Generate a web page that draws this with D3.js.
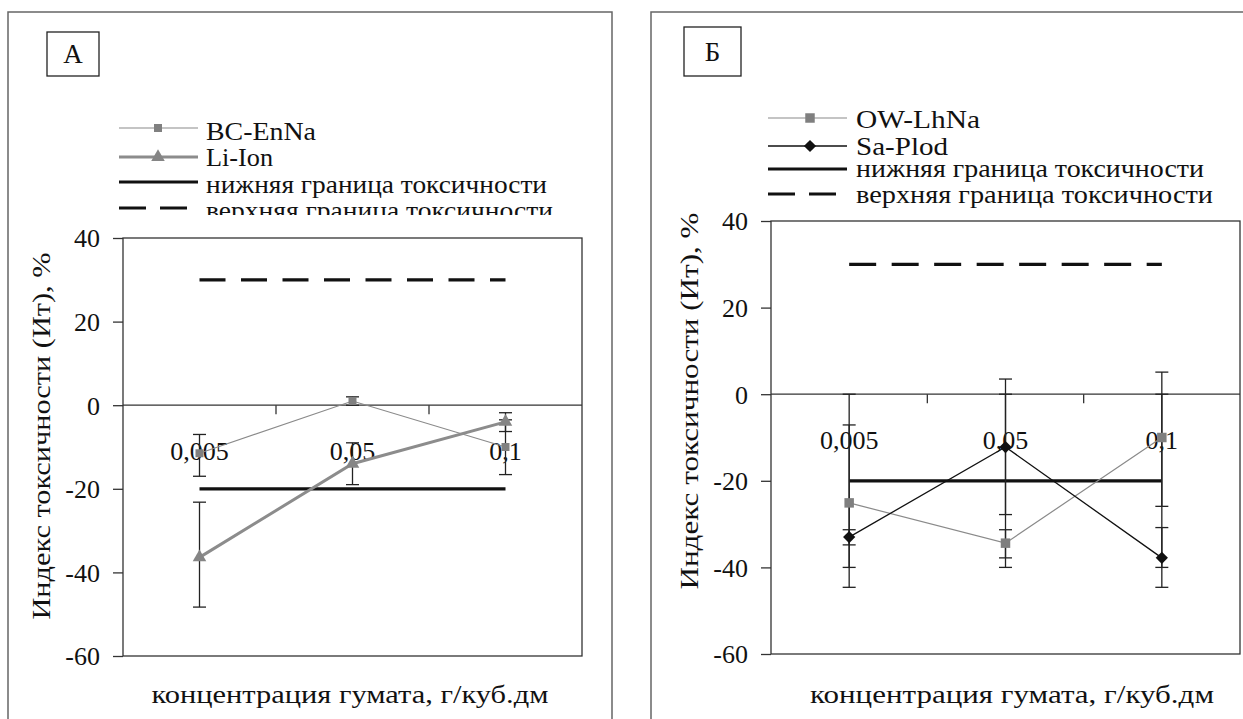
<!DOCTYPE html>
<html>
<head>
<meta charset="utf-8">
<script src="https://cdn.jsdelivr.net/npm/d3@7"></script>
<style>
  body { margin: 0; background: #fff; }
</style>
</head>
<body>
<svg id="chart" width="1243" height="719" font-family="Liberation Serif" fill="#111"></svg>
<script>
// categories and ticks
const categories = ["0,005", "0,05", "0,1"];
const yTicks = [40, 20, 0, -20, -40, -60];

// panel A
const bcEnNa = [-11.5, 1, -10];
const bcEnNaLo = [-17, 0, -16.6];
const bcEnNaHi = [-7, 2, -3.5];
const liIon = [-36.4, -14, -4];
const liIonLo = [-48.3, -19, -6.3];
const liIonHi = [-23.2, -9, -1.8];

// panel B
const owLhNa = [-25.1, -34.4, -10];
const owLhNaLo = [-44.6, -37.8, -25.9];
const owLhNaHi = [-7.1, -31.3, 5.1];
const saPlod = [-33, -12.2, -37.8];
const saPlodLo = [-34.8, -27.8, -44.6];
const saPlodHi = [-31.3, 3.5, -30.8];

// toxicity limits
const lowerLimit = [-20, -20, -20];
const upperLimit = [30, 30, 30];
const lowerLimitLoB = [-40, -40, -40];
const lowerLimitHiB = [0, 0, 0];

const legendA = ["BC-EnNa", "Li-Ion", "нижняя граница токсичности", "верхняя граница токсичности"];
const legendB = ["OW-LhNa", "Sa-Plod", "нижняя граница токсичности", "верхняя граница токсичности"];
const xTitle = "концентрация гумата, г/куб.дм";
const yTitle = "Индекс токсичности (Ит), %";

const FONT = "'Liberation Serif', 'Times New Roman', serif";
const svg = d3.select("#chart");

function label(sel, size) {
    return sel.style("font-family", FONT).style("font-size", size + "px").attr("fill", "#111");
}

function drawPanel(p) {
    const g = svg.append("g");

    // outer frame
    g.append("path")
        .attr("d", p.frame)
        .attr("fill", "none")
        .attr("stroke", "#666")
        .attr("stroke-width", 1.5);

    // letter box
    g.append("rect")
        .attr("x", p.box[0]).attr("y", p.box[1])
        .attr("width", p.box[2]).attr("height", p.box[3])
        .attr("fill", "none").attr("stroke", "#222").attr("stroke-width", 1.3);
    label(g.append("text"), 27)
        .attr("x", p.box[0] + p.box[2] / 2)
        .attr("y", p.box[1] + p.box[3] / 2 + 9)
        .attr("text-anchor", "middle")
        .text(p.letter);

    const x = d3.scaleBand().domain(categories).range([p.left, p.right]);
    const y = d3.scaleLinear().domain([-60, 40]).range([p.bottom, p.top]);
    const cx = c => x(c) + x.bandwidth() / 2;

    // plot border
    g.append("rect")
        .attr("x", p.left).attr("y", p.top)
        .attr("width", p.right - p.left).attr("height", p.bottom - p.top)
        .attr("fill", "none").attr("stroke", "#333").attr("stroke-width", 1.3);

    // y axis
    const yAxis = g.append("g")
        .attr("transform", "translate(" + p.left + ",0)")
        .call(d3.axisLeft(y).tickValues(yTicks).tickSize(10).tickPadding(13)
            .tickFormat(d => String(d)));
    yAxis.select(".domain").remove();
    yAxis.selectAll("line").attr("stroke", "#333").attr("stroke-width", 1.3);
    label(yAxis.selectAll("text"), 26).attr("dy", "0.34em");

    // category axis at zero
    g.append("line")
        .attr("x1", p.left).attr("x2", p.right)
        .attr("y1", y(0)).attr("y2", y(0))
        .attr("stroke", "#333").attr("stroke-width", 1.3);
    g.selectAll(".ctick")
        .data(categories.slice(1))
        .enter().append("line")
        .attr("x1", d => x(d)).attr("x2", d => x(d))
        .attr("y1", y(0)).attr("y2", y(0) + 9)
        .attr("stroke", "#333").attr("stroke-width", 1.3);
    label(g.selectAll(".clabel")
        .data(categories)
        .enter().append("text"), 26)
        .attr("x", d => cx(d))
        .attr("y", y(0) + 55)
        .attr("text-anchor", "middle")
        .text(d => d);

    // axis titles
    label(g.append("text"), 26)
        .attr("x", p.xTitle[0]).attr("y", p.xTitle[1])
        .attr("text-anchor", "middle")
        .attr("textLength", p.xTitle[2]).attr("lengthAdjust", "spacingAndGlyphs")
        .text(xTitle);
    label(g.append("text"), 26)
        .attr("transform", "translate(" + p.yTitle[0] + "," + p.yTitle[1] + ") rotate(-90)")
        .attr("text-anchor", "middle")
        .attr("textLength", p.yTitle[2]).attr("lengthAdjust", "spacingAndGlyphs")
        .text(yTitle);

    const line = d3.line().x((d, i) => cx(categories[i])).y(d => y(d));

    // limits
    g.append("path").datum(upperLimit)
        .attr("d", line).attr("fill", "none")
        .attr("stroke", "#111").attr("stroke-width", 3.2)
        .attr("stroke-dasharray", p.dash);
    g.append("path").datum(lowerLimit)
        .attr("d", line).attr("fill", "none")
        .attr("stroke", "#111").attr("stroke-width", 3.2);

    // error bars
    p.series.forEach(function(s) {
        if (!s.lo) return;
        const eg = g.append("g").attr("stroke", "#222").attr("stroke-width", 1.3);
        categories.forEach(function(c, i) {
            eg.append("line")
                .attr("x1", cx(c)).attr("x2", cx(c))
                .attr("y1", y(s.lo[i])).attr("y2", y(s.hi[i]));
            [s.lo[i], s.hi[i]].forEach(function(v) {
                eg.append("line")
                    .attr("x1", cx(c) - 6.5).attr("x2", cx(c) + 6.5)
                    .attr("y1", y(v)).attr("y2", y(v));
            });
        });
    });

    // series lines + markers
    p.series.forEach(function(s) {
        if (!s.marker) return;
        g.append("path").datum(s.values)
            .attr("d", line).attr("fill", "none")
            .attr("stroke", s.color).attr("stroke-width", s.width);
        g.selectAll(null)
            .data(s.values)
            .enter().append("path")
            .attr("d", d3.symbol().type(s.marker).size(s.size))
            .attr("transform", (d, i) => "translate(" + cx(categories[i]) + "," + y(d) + ")" + (s.rot ? " rotate(45)" : ""))
            .attr("fill", s.mcolor);
    });

    // legend
    const lg = g.append("g");
    if (p.legendClip) {
        svg.append("clipPath").attr("id", "clip" + p.letter)
            .append("rect").attr("x", 0).attr("y", 0).attr("width", 1243).attr("height", p.legendClip);
        lg.attr("clip-path", "url(#clip" + p.letter + ")");
    }
    p.legend.forEach(function(item, i) {
        const ly = p.legLineY[i];
        const s = item.style;
        lg.append("line")
            .attr("x1", p.legX[0]).attr("x2", p.legX[1])
            .attr("y1", ly).attr("y2", ly)
            .attr("stroke", s.color).attr("stroke-width", s.width)
            .attr("stroke-dasharray", s.dash || null);
        if (s.marker) {
            lg.append("path")
                .attr("d", d3.symbol().type(s.marker).size(s.size))
                .attr("transform", "translate(" + p.legX[2] + "," + ly + ")" + (s.rot ? " rotate(45)" : ""))
                .attr("fill", s.mcolor);
        }
        label(lg.append("text"), 26)
            .attr("x", p.legX[3]).attr("y", p.legTextY[i])
            .attr("textLength", item.w).attr("lengthAdjust", "spacingAndGlyphs")
            .text(item.label);
    });
}

const lowStyle = {color: "#111", width: 3.2};
const upStyle = {color: "#111", width: 3.2, dash: "27,14"};

const bcStyle = {values: bcEnNa, lo: bcEnNaLo, hi: bcEnNaHi, color: "#8a8a8a", width: 1.2,
    marker: d3.symbolSquare, size: 64, mcolor: "#808080"};
const liStyle = {values: liIon, lo: liIonLo, hi: liIonHi, color: "#8c8c8c", width: 3,
    marker: d3.symbolTriangle, size: 80, mcolor: "#858585"};
const owStyle = {values: owLhNa, lo: owLhNaLo, hi: owLhNaHi, color: "#8a8a8a", width: 1.2,
    marker: d3.symbolSquare, size: 90, mcolor: "#7f7f7f"};
const saStyle = {values: saPlod, lo: saPlodLo, hi: saPlodHi, color: "#111", width: 1.3,
    marker: d3.symbolSquare, size: 75, mcolor: "#111", rot: true};

drawPanel({
    letter: "А",
    frame: "M8,719 L8,12 L612,12 L612,719",
    box: [47, 32, 52, 44],
    left: 123, right: 582, top: 238, bottom: 656,
    dash: "26,15.5",
    xTitle: [350, 703, 397],
    yTitle: [50, 436, 367],
    series: [bcStyle, liStyle],
    legX: [119, 198, 158, 206],
    legLineY: [128, 157, 182, 208],
    legTextY: [140, 166, 193, 219],
    legendClip: 215,
    legend: [
        {label: legendA[0], w: 110, style: bcStyle},
        {label: legendA[1], w: 67, style: liStyle},
        {label: legendA[2], w: 341, style: lowStyle},
        {label: legendA[3], w: 347, style: upStyle}
    ]
});

drawPanel({
    letter: "Б",
    frame: "M651,719 L651,12 L1250,12",
    box: [684, 27, 57, 49],
    left: 771, right: 1240, top: 221, bottom: 654,
    dash: "27,15.5",
    xTitle: [1012, 703, 404],
    yTitle: [698, 401, 377],
    series: [{lo: lowerLimitLoB, hi: lowerLimitHiB}, owStyle, saStyle],
    legX: [768, 847, 810, 856],
    legLineY: [118, 146, 169, 194],
    legTextY: [128, 155, 177, 203],
    legend: [
        {label: legendB[0], w: 124, style: owStyle},
        {label: legendB[1], w: 92, style: saStyle},
        {label: legendB[2], w: 348, style: lowStyle},
        {label: legendB[3], w: 357, style: upStyle}
    ]
});
</script>
</body>
</html>
